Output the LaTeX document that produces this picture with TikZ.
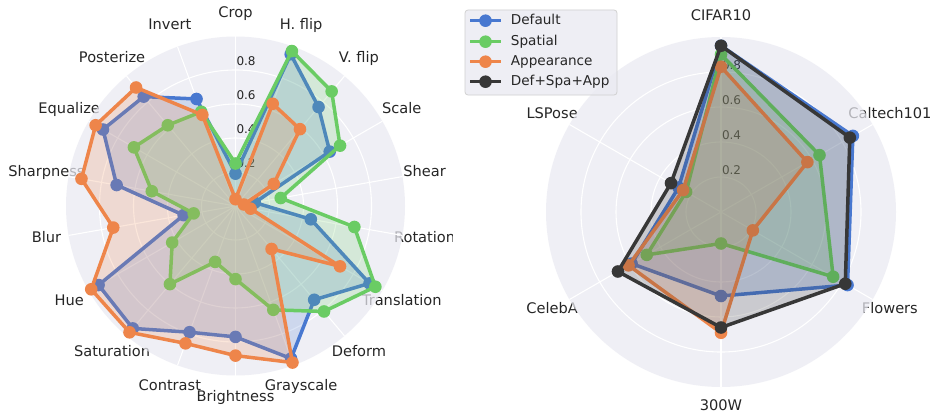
\documentclass[tikz,border=0pt]{standalone}
\usepackage{fontspec}
\setmainfont{DejaVu Sans}
\usetikzlibrary{calc}

\definecolor{axbg}{HTML}{EAEAF2}
\definecolor{cblue}{HTML}{4878D0}
\definecolor{cgreen}{HTML}{6ACC64}
\definecolor{corange}{HTML}{EE854A}
\definecolor{cdark}{HTML}{373737}
\definecolor{ink}{HTML}{262626}

% one closed radar polygon: #1 colour, #2 unit radius, #3 angle step, #4 values
\newcommand\radarpoly[4]{%
  \gdef\radarpath{}%
  \foreach \v [count=\i] in {#4}{%
    \pgfmathsetmacro\radang{90-#3*(\i-1)}%
    \pgfmathsetmacro\radlen{\v*#2}%
    \ifnum\i=1
      \xdef\radarpath{(\radang:\radlen)}%
    \else
      \xdef\radarpath{\radarpath -- (\radang:\radlen)}%
    \fi
  }%
  \draw[serieline, draw=#1] \radarpath -- cycle;
  \foreach \v [count=\i] in {#4}
    \fill[#1] ({90-#3*(\i-1)}:{\v*#2}) circle[radius=6.3];
  \fill[#1, opacity=0.2] \radarpath -- cycle;
}

\tikzset{
  axlabel/.style={font=\fontsize{14.6}{16}\selectfont, text=ink, inner sep=0pt,
    text height=0.73em, text depth=0pt, anchor=center},
  ticklabel/.style={font=\fontsize{12}{14}\selectfont, text=ink, inner sep=0pt,
    text height=0.73em, text depth=0pt, anchor=west},
  leglabel/.style={font=\fontsize{13.6}{15}\selectfont, text=ink, inner sep=0pt,
    text height=0.73em, text depth=0pt, anchor=west},
  gridline/.style={white, line width=1.1},
  serieline/.style={line width=3.5, line join=round},
  % the axes face lies over the outer ends of long tick names
  axface/.style={fill=axbg, fill opacity=0.72},
}

\begin{document}
\begin{tikzpicture}[x=1pt, y=1pt]
\useasboundingbox (0,0) rectangle (934,416);
\fill[white] (0,0) rectangle (934,416);

% ---------- augmentation radar ----------
\begin{scope}[shift={(235.5,210)}]
  \begin{scope}
    % the left panel ends just right of its widest label
    \clip (-240,-215) rectangle (216.5,215);
    \foreach \t [count=\i] in {Crop,H. flip,V. flip,Scale,Shear,Rotation,Translation,Deform,Grayscale,Brightness,Contrast,Saturation,Hue,Blur,Sharpness,Equalize,Posterize,Invert}
      \node[axlabel] (augname\i) at ({90-20*(\i-1)}:192) {\t};
  \end{scope}
  \fill[axface] (0,0) circle[radius=169.5];
  \foreach \r in {0.2,0.4,0.6,0.8}
    \draw[gridline] (0,0) circle[radius=\r*170];
  \foreach \i in {0,...,17}
    \draw[gridline] (0,0) -- ({90-20*\i}:169.5);
  \foreach \r [count=\i] in {0.2,0.4,0.6,0.8}
    \node[ticklabel] (augtick\i) at (0.8,{\r*170+8}) {\r};
  \radarpoly{cblue}{170}{20}{0.19,0.95,0.76,0.64,0.115,0.45,0.91,0.72,0.955,0.77,0.79,0.94,0.93,0.31,0.71,0.90,0.84,0.67}
  \radarpoly{cgreen}{170}{20}{0.25,0.97,0.88,0.71,0.27,0.71,0.95,0.81,0.65,0.43,0.35,0.60,0.43,0.25,0.50,0.69,0.62,0.59}
  \radarpoly{corange}{170}{20}{0.04,0.64,0.59,0.26,0.05,0.09,0.71,0.33,0.98,0.88,0.86,0.97,0.98,0.73,0.92,0.95,0.91,0.57}
\end{scope}

% ---------- dataset radar ----------
\begin{scope}[shift={(721,204)}]
  \foreach \t [count=\i] in {CIFAR10,Caltech101,Flowers,300W,CelebA,LSPose}
    \node[axlabel] (dsname\i) at ({90-60*(\i-1)}:195) {\t};
  \fill[axface] (0,0) circle[radius=175];
  \foreach \r in {0.2,0.4,0.6,0.8}
    \draw[gridline] (0,0) circle[radius=\r*175];
  \foreach \i in {0,...,5}
    \draw[gridline] (0,0) -- ({90-60*\i}:175);
  \foreach \r [count=\i] in {0.2,0.4,0.6,0.8}
    \node[ticklabel] (dstick\i) at (0.8,{\r*175+6.3}) {\r};
  \radarpoly{cblue}{175}{60}{0.95,0.87,0.835,0.48,0.59,0.28}
  \radarpoly{cgreen}{175}{60}{0.90,0.65,0.74,0.18,0.49,0.23}
  \radarpoly{corange}{175}{60}{0.83,0.57,0.21,0.69,0.61,0.25}
  \radarpoly{cdark}{175}{60}{0.95,0.85,0.82,0.66,0.68,0.33}
\end{scope}

% ---------- legend ----------
\filldraw[rounded corners=3, fill=axbg, fill opacity=0.8, draw=black!18, line width=0.8]
  (465,406) rectangle (617,321);
\foreach \c/\t/\y [count=\i] in {cblue/Default/395.3, cgreen/Spatial/374.3, corange/Appearance/354.3, cdark/Def+Spa+App/334.3}{
  \coordinate (legA\i) at (470,\y);
  \coordinate (legB\i) at (501,\y);
  \draw[serieline, draw=\c] (legA\i) -- (legB\i);
  \fill[\c] ($(legA\i)!0.5!(legB\i)$) circle[radius=6.3];
  \node[leglabel] (legtext\i) at (510.7,\y) {\t};
}
\end{tikzpicture}
\end{document}
